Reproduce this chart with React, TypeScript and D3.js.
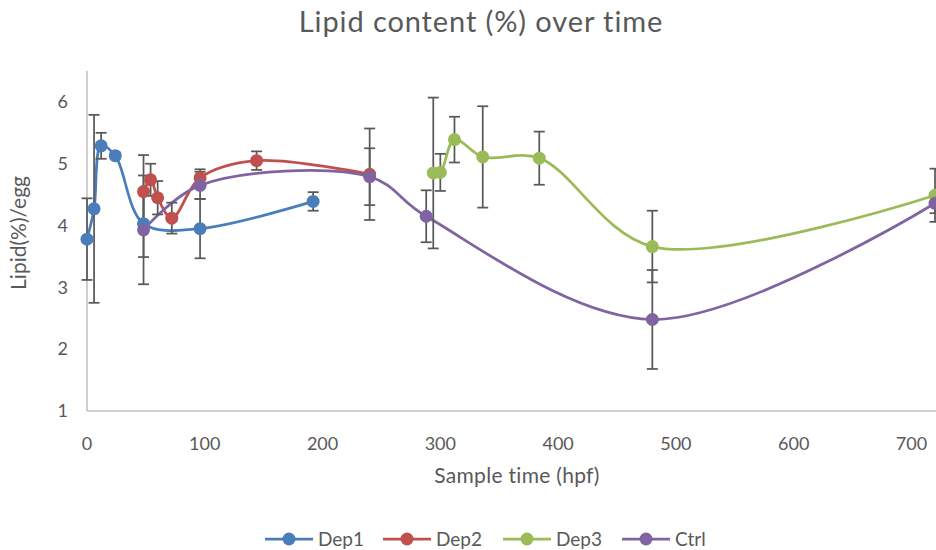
import React from 'react';
import * as d3 from 'd3';

// Data (hpf, lipid %, +/- error)

const dep1Time = [0, 6, 12, 24, 48, 96, 192];
const dep1Lipid = [3.78, 4.27, 5.29, 5.13, 4.03, 3.95, 4.39];
const dep1Err = [0.66, 1.52, 0.21, 0.05, 0.54, 0.48, 0.15];

const dep2Time = [48, 54, 60, 72, 96, 144, 240];
const dep2Lipid = [4.55, 4.74, 4.45, 4.12, 4.77, 5.05, 4.83];
const dep2Err = [0.59, 0.26, 0.27, 0.25, 0.14, 0.15, 0.74];

const dep3Time = [294, 300, 312, 336, 384, 480, 720];
const dep3Lipid = [4.85, 4.86, 5.39, 5.11, 5.09, 3.66, 4.49];
const dep3Err = [1.22, 0.3, 0.37, 0.82, 0.43, 0.58, 0.43];

const ctrlTime = [48, 96, 240, 288, 480, 720];
const ctrlLipid = [3.93, 4.65, 4.79, 4.15, 2.48, 4.36];
const ctrlErr = [0.88, 0.22, 0.46, 0.42, 0.8, 0.16];

const xTicks = [0, 100, 200, 300, 400, 500, 600, 700];
const yTicks = [1, 2, 3, 4, 5, 6];

type Pt = { t: number; v: number; e: number };
type Series = { name: string; color: string; pts: Pt[] };

const zip = (t: number[], v: number[], e: number[]): Pt[] => t.map((d, i) => ({ t: d, v: v[i], e: e[i] }));

const series: Series[] = [
    { name: 'Dep1', color: '#4a7ebb', pts: zip(dep1Time, dep1Lipid, dep1Err) },
    { name: 'Dep2', color: '#c0504d', pts: zip(dep2Time, dep2Lipid, dep2Err) },
    { name: 'Dep3', color: '#9bbb59', pts: zip(dep3Time, dep3Lipid, dep3Err) },
    { name: 'Ctrl', color: '#8064a2', pts: zip(ctrlTime, ctrlLipid, ctrlErr) },
];

const W = 936;
const H = 550;
const FONT = 'Lato, "Open Sans", sans-serif';
const TEXT = '#595959';

function LipidChart() {
    const ref = React.useRef<SVGSVGElement>(null);

    React.useEffect(() => {
        const svg = d3.select(ref.current);
        svg.selectAll('*').remove();

        const x = d3.scaleLinear().domain([0, 720]).range([87, 935]);
        const y = d3.scaleLinear().domain([1, 6.5]).range([411, 71]);

        const g = svg.append('g').attr('font-family', FONT);

        // title
        g.append('text')
            .attr('x', 481).attr('y', 32)
            .attr('text-anchor', 'middle')
            .attr('font-size', 29)
            .attr('letter-spacing', 0.9)
            .attr('fill', TEXT)
            .text('Lipid content (%) over time');

        // axes
        g.append('line')
            .attr('x1', x(0)).attr('x2', x(0))
            .attr('y1', y(6.5)).attr('y2', y(1))
            .attr('stroke', '#bfbfbf').attr('stroke-width', 1.5);
        g.append('line')
            .attr('x1', x(0)).attr('x2', W)
            .attr('y1', y(1)).attr('y2', y(1))
            .attr('stroke', '#bfbfbf').attr('stroke-width', 1.5);

        g.append('g').selectAll('text').data(yTicks).join('text')
            .attr('x', 68).attr('y', (d) => y(d))
            .attr('dy', '0.35em')
            .attr('text-anchor', 'end')
            .attr('font-size', 18)
            .attr('fill', TEXT)
            .text((d) => d);

        g.append('g').selectAll('text').data(xTicks).join('text')
            .attr('x', (d) => x(d)).attr('y', 450)
            .attr('text-anchor', 'middle')
            .attr('font-size', 18)
            .attr('fill', TEXT)
            .text((d) => d);

        g.append('text')
            .attr('x', 517).attr('y', 483)
            .attr('text-anchor', 'middle')
            .attr('font-size', 21)
            .attr('letter-spacing', 0.3)
            .attr('fill', TEXT)
            .text('Sample time (hpf)');

        g.append('text')
            .attr('transform', 'translate(26,233) rotate(-90)')
            .attr('text-anchor', 'middle')
            .attr('font-size', 21)
            .attr('fill', TEXT)
            .text('Lipid(%)/egg');

        // lines
        const line = d3.line<Pt>()
            .x((d) => x(d.t))
            .y((d) => y(d.v))
            .curve(d3.curveCatmullRom.alpha(0.5));

        g.append('g').selectAll('path').data(series).join('path')
            .attr('fill', 'none')
            .attr('stroke', (s) => s.color)
            .attr('stroke-width', 2.75)
            .attr('stroke-linejoin', 'round')
            .attr('d', (s) => line(s.pts));

        // error bars
        const eb = g.append('g')
            .attr('stroke', '#595959')
            .attr('stroke-width', 1.75);
        series.forEach((s) => {
            s.pts.forEach((p) => {
                const cx = x(p.t);
                const top = y(p.v + p.e);
                const bot = y(p.v - p.e);
                eb.append('line').attr('x1', cx).attr('x2', cx).attr('y1', top).attr('y2', bot);
                eb.append('line').attr('x1', cx - 5.5).attr('x2', cx + 5.5).attr('y1', top).attr('y2', top);
                eb.append('line').attr('x1', cx - 5.5).attr('x2', cx + 5.5).attr('y1', bot).attr('y2', bot);
            });
        });

        // markers
        series.forEach((s) => {
            g.append('g').selectAll('circle').data(s.pts).join('circle')
                .attr('cx', (d) => x(d.t))
                .attr('cy', (d) => y(d.v))
                .attr('r', 6.5)
                .attr('fill', s.color);
        });

        // legend
        const legendX = [265, 383, 503, 622];
        const lg = g.append('g');
        series.forEach((s, i) => {
            const lx = legendX[i];
            const ly = 539;
            lg.append('line')
                .attr('x1', lx).attr('x2', lx + 48)
                .attr('y1', ly).attr('y2', ly)
                .attr('stroke', s.color).attr('stroke-width', 2.75);
            lg.append('circle')
                .attr('cx', lx + 24).attr('cy', ly).attr('r', 6.5)
                .attr('fill', s.color);
            lg.append('text')
                .attr('x', lx + 53).attr('y', ly)
                .attr('dy', '0.35em')
                .attr('font-size', 19)
                .attr('fill', TEXT)
                .text(s.name);
        });
    }, []);

    return (
        <svg ref={ref} width={W} height={H} style={{ position: 'absolute', left: 0, top: 0, background: '#fff' }} />
    );
}

export default function App() {
    return <LipidChart />;
}
